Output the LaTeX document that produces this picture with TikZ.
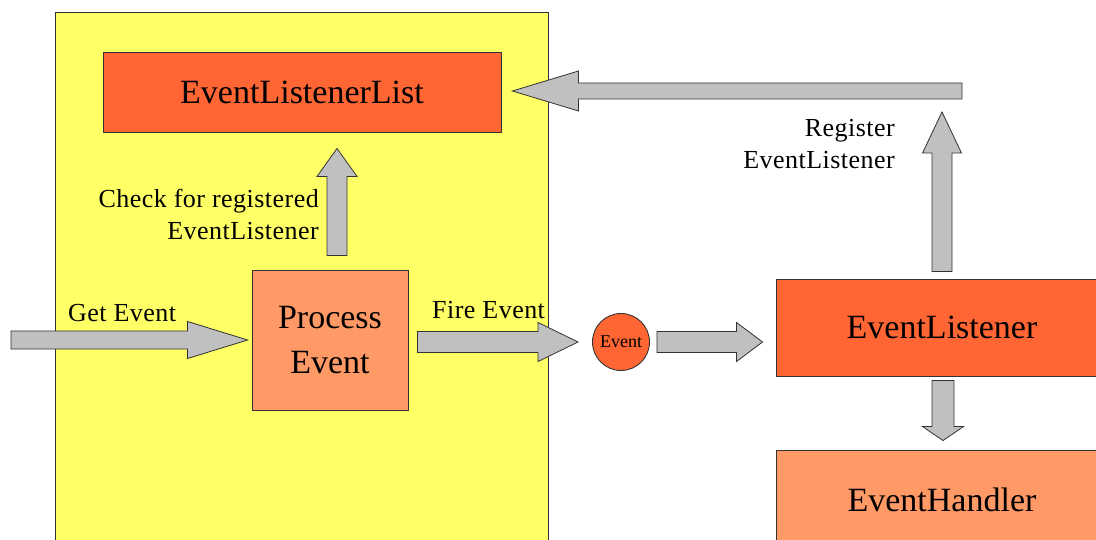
\documentclass[tikz,border=0pt]{standalone}
\usepackage{fontspec}
\setmainfont{Liberation Serif}
\newfontfamily\labelfont[LetterSpace=1.8]{Liberation Serif}
\usepackage{tikz}
\usetikzlibrary{positioning,calc}
\usepackage{xcolor}

\definecolor{panelyellow}{HTML}{FFFF66}
\definecolor{listred}{HTML}{FF6633}
\definecolor{salmon}{HTML}{FF9966}
\definecolor{arrowgray}{HTML}{C0C0C0}
\definecolor{edgegray}{HTML}{333333}

% block arrow: body width, head width, head length, tail, tip
\newcommand{\blockarrow}[5]{%
  \path let \p1=(#4), \p2=(#5), \n1={atan2(\y2-\y1,\x2-\x1)}, \n2={veclen(\x2-\x1,\y2-\y1)} in
    \pgfextra{\xdef\baangle{\n1}\xdef\balength{\n2}} (\p1) coordinate (batail);
  \draw[fatarrow, shift={(batail)}, rotate=\baangle]
    (0pt,{0.5*#1pt}) -- ({\balength*1pt-#3pt},{0.5*#1pt}) -- ({\balength*1pt-#3pt},{0.5*#2pt})
    -- ({\balength*1pt},0pt) -- ({\balength*1pt-#3pt},{-0.5*#2pt}) -- ({\balength*1pt-#3pt},{-0.5*#1pt})
    -- (0pt,{-0.5*#1pt}) -- cycle;%
}

\begin{document}
\begin{tikzpicture}[x=1pt, y=-1pt,
    panel/.style={draw=edgegray, line width=0.9pt, fill=panelyellow, inner sep=0pt},
    redbox/.style={draw=edgegray, line width=0.9pt, fill=listred, inner sep=0pt, font=\fontsize{34}{45}\selectfont},
    salmonbox/.style={draw=edgegray, line width=0.9pt, fill=salmon, inner sep=0pt, font=\fontsize{34}{45}\selectfont},
    fatarrow/.style={draw=edgegray, line width=0.8pt, fill=arrowgray, line join=miter},
    lbl/.style={inner sep=0pt, font=\labelfont\fontsize{26}{32}\selectfont}]
    \useasboundingbox (0,0) rectangle (1096,540);
    \clip (0,0) rectangle (1096,540);

    % 1. Yellow panel with list and processing
    \node[panel, minimum width=493pt, minimum height=540pt, anchor=north west] (panel) at (55,12) {};
    \node[redbox, minimum width=398pt, minimum height=80pt] (list) at (302,92) {EventListenerList};
    \node[salmonbox, minimum width=156pt, minimum height=140pt, align=center] (process) at (330,340) {Process\\Event};

    % 2. Event and listener side
    \node[redbox, circle, minimum size=57pt, font=\fontsize{18}{20}\selectfont] (event) at (621,342) {Event};
    \node[redbox, minimum width=332pt, minimum height=97pt] (listener) at (942,327.5) {EventListener};
    \node[salmonbox, minimum width=332pt, minimum height=100pt] (handler) at (942,500) {EventHandler};
    \coordinate (getstart) at (11,340);
    \coordinate (regend) at (962,91);

    % 3. Arrows
    \blockarrow{18}{37}{60}{getstart}{$(process.west)+(-4,0)$}
    \blockarrow{21}{39}{40}{$(process.east |- event.west)+(9,0)$}{$(event.west)+(-14,0)$}
    \blockarrow{21}{39}{26}{$(event.east)+(7,0)$}{$(listener.west |- event.east)+(-13,0)$}
    \blockarrow{20}{40}{28}{$(process.north)+(7,-14)$}{$(list.south)+(35,16)$}
    \blockarrow{20}{39}{41}{$(listener.north)+(0,-7)$}{$(listener.north |- regend)+(0,21)$}
    \blockarrow{16}{40}{66}{regend}{$(list.east |- regend)+(11,0)$}
    \blockarrow{22}{41}{14}{$(listener.south)+(1,4)$}{$(handler.north)+(1,-9)$}

    % 4. Labels
    \node[lbl, anchor=base west] (getlbl) at (68,322) {Get Event};
    \node[lbl, anchor=base west] (firelbl) at (432,319) {Fire Event};
    \node[lbl, align=right, anchor=east] (checklbl) at (319,214) {Check for registered\\EventListener};
    \node[lbl, align=right, anchor=east] (reglbl) at (895,144) {Register\\EventListener};
\end{tikzpicture}
\end{document}
